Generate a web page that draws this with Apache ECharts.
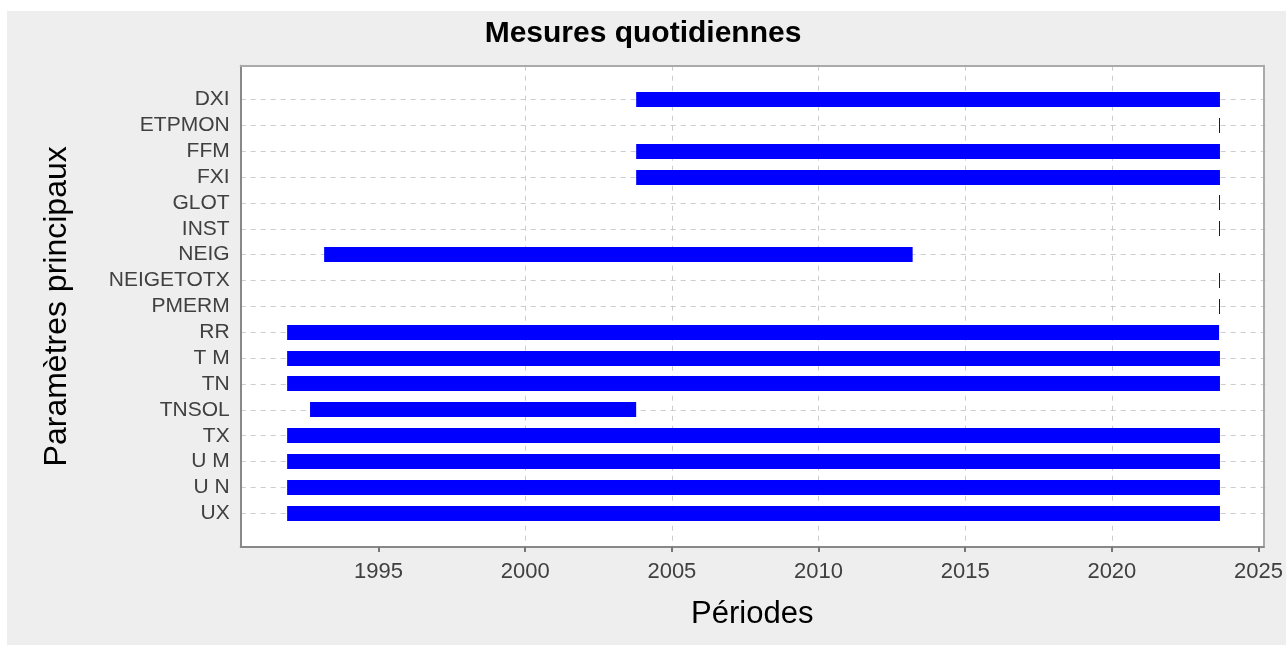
<!DOCTYPE html>
<html>
<head>
<meta charset="utf-8">
<script src="https://cdn.jsdelivr.net/npm/echarts@6/dist/echarts.min.js"></script>
<style>html,body{margin:0;padding:0;background:#fff}#c{width:1286px;height:645px}</style>
</head>
<body>
<div id="c"></div>
<script>
const categories = ['DXI','ETPMON','FFM','FXI','GLOT','INST','NEIG','NEIGETOTX','PMERM','RR','T M','TN','TNSOL','TX','U M','U N','UX'];
const startYears = [2003.76, 2023.6, 2003.76, 2003.76, 2023.6, 2023.6, 1993.14, 2023.6, 2023.6, 1991.88, 1991.88, 1991.88, 1992.66, 1991.88, 1991.88, 1991.88, 1991.88];
const endYears   = [2023.63, 2023.6, 2023.63, 2023.63, 2023.6, 2023.6, 2013.17, 2023.6, 2023.6, 2023.6, 2023.63, 2023.63, 2003.76, 2023.63, 2023.63, 2023.63, 2023.63];
const xTickValues = [1995, 2000, 2005, 2010, 2015, 2020, 2025];
const xMin = 1990.3, xMax = 2025.18;

const FONT = "'Liberation Sans', Arial, Helvetica, sans-serif";
const data = categories.map((c, i) => [i, startYears[i], endYears[i]]);

const chart = echarts.init(document.getElementById('c'), null, {renderer: 'canvas'});
chart.setOption({
  animation: false,
  backgroundColor: '#ffffff',
  graphic: [{
    type: 'rect', z: -10, silent: true,
    shape: {x: 7, y: 11, width: 1286 - 7, height: 645 - 11},
    style: {fill: '#eeeeee'}
  }],
  title: {
    text: 'Mesures quotidiennes',
    left: 'center', top: 14,
    textStyle: {fontFamily: FONT, fontSize: 30, fontWeight: 'bold', color: '#000'}
  },
  grid: [
    {left: 240.7, right: 20.5, top: 65.7, bottom: 98, show: true, backgroundColor: '#ffffff', borderWidth: 0},
    {left: 240.7, right: 20.5, top: 99.5, bottom: 131.7}
  ],
  xAxis: [
    {
      type: 'value', gridIndex: 0, position: 'bottom', min: xMin, max: xMax,
      minInterval: 5, maxInterval: 5,
      name: 'Périodes', nameLocation: 'middle', nameGap: 52,
      nameTextStyle: {fontFamily: FONT, fontSize: 31, color: '#000'},
      axisLine: {show: true, lineStyle: {color: '#888', width: 2}},
      axisTick: {show: true, inside: false, length: 5, customValues: xTickValues, lineStyle: {color: '#777', width: 2}},
      axisLabel: {show: true, customValues: xTickValues, margin: 14, fontFamily: FONT, fontSize: 22, color: '#404040',
        formatter: v => String(v), showMinLabel: true, showMaxLabel: true},
      splitLine: {show: true, showMinLine: false, showMaxLine: false, lineStyle: {color: '#cccccc', width: 1, type: [5, 5]}}
    },
    {
      type: 'value', gridIndex: 0, position: 'top', min: 0, max: 1,
      axisLine: {show: true, onZero: false, lineStyle: {color: '#aaa', width: 2}},
      axisTick: {show: false}, axisLabel: {show: false}, splitLine: {show: false}
    },
    {
      type: 'value', gridIndex: 1, min: xMin, max: xMax, show: false
    }
  ],
  yAxis: [
    {
      type: 'value', gridIndex: 0, position: 'left', min: 0, max: 1,
      name: 'Paramètres principaux', nameLocation: 'middle', nameGap: 168,
      nameTextStyle: {fontFamily: FONT, fontSize: 32, color: '#000'},
      axisLine: {show: true, onZero: false, lineStyle: {color: '#888', width: 2}},
      axisTick: {show: false}, axisLabel: {show: false}, splitLine: {show: false}
    },
    {
      type: 'value', gridIndex: 0, position: 'right', min: 0, max: 1,
      axisLine: {show: true, onZero: false, lineStyle: {color: '#aaa', width: 2}},
      axisTick: {show: false}, axisLabel: {show: false}, splitLine: {show: false}
    },
    {
      type: 'category', gridIndex: 1, data: categories, inverse: true, boundaryGap: false,
      axisLine: {show: false}, axisTick: {show: false},
      axisLabel: {interval: 0, margin: 11, fontFamily: FONT, fontSize: 21, color: '#404040'},
      splitLine: {show: true, interval: 0, lineStyle: {color: '#cccccc', width: 1, type: [5, 5]}}
    }
  ],
  series: [{
    type: 'custom',
    xAxisIndex: 2, yAxisIndex: 2,
    encode: {x: [1, 2], y: 0},
    data: data,
    renderItem: function (params, api) {
      const row = api.value(0);
      const s = api.coord([api.value(1), row]);
      const e = api.coord([api.value(2), row]);
      const h = 15;
      let w = e[0] - s[0];
      let x = s[0];
      if (w < 1) { w = 1; x = Math.round(s[0]); }
      return {type: 'rect', shape: {x: x, y: Math.round(s[1] - h / 2), width: w, height: h}, style: {fill: '#0000ff'}};
    }
  }]
});
</script>
</body>
</html>
